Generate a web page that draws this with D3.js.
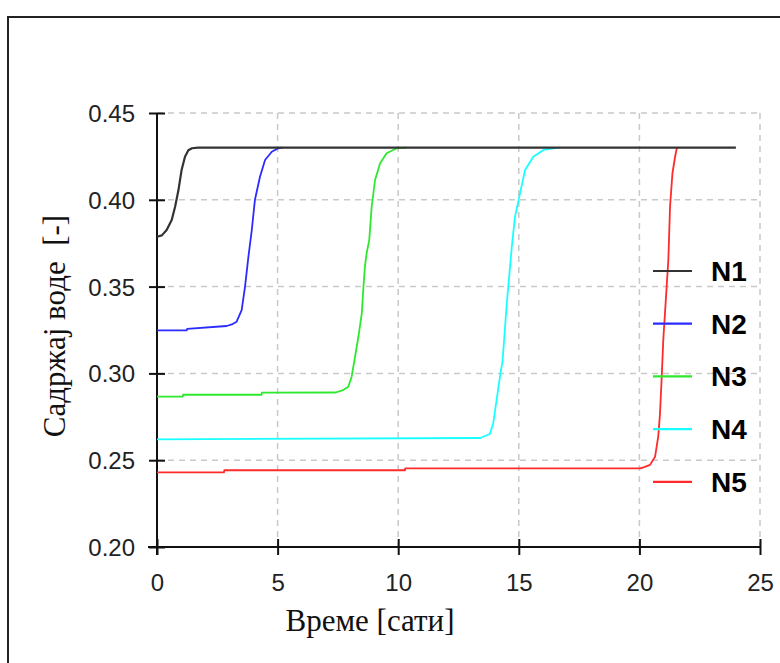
<!DOCTYPE html>
<html>
<head>
<meta charset="utf-8">
<script src="https://cdn.jsdelivr.net/npm/d3@7"></script>
<style>
  html, body { margin: 0; padding: 0; background: #fff; }
  svg { display: block; }
</style>
</head>
<body>
<svg id="chart" width="780" height="663"></svg>
<script>
// Water content over time at five nodes
const seriesNames = ["N1", "N2", "N3", "N4", "N5"];
const seriesColors = ["#333333", "#2b2bff", "#2ee82e", "#18ffff", "#ff2a2a"];

const n1Time  = [0, 0.2, 0.4, 0.61, 0.75, 0.89, 1.02, 1.16, 1.30, 1.45, 1.7, 24];
const n1Value = [0.3787, 0.3795, 0.3826, 0.3884, 0.396, 0.4056, 0.4172, 0.4248, 0.4285, 0.4297, 0.43, 0.43];

const n2Time  = [0, 1.23, 1.25, 2.89, 3.1, 3.30, 3.51, 3.65, 3.79, 3.93, 4.06, 4.27, 4.48, 4.76, 5.03, 5.2];
const n2Value = [0.3248, 0.3248, 0.3256, 0.3273, 0.3282, 0.3298, 0.3365, 0.35, 0.3672, 0.3826, 0.40, 0.4133, 0.4229, 0.4277, 0.4297, 0.43];

const n3Time  = [0, 1.07, 1.08, 4.34, 4.35, 7.4, 7.72, 7.93, 8.07, 8.21, 8.35, 8.49, 8.56, 8.62, 8.69, 8.80, 8.90, 9.04, 9.25, 9.52, 9.94, 10.35];
const n3Value = [0.2866, 0.2866, 0.2877, 0.2877, 0.2889, 0.2890, 0.2904, 0.2923, 0.2981, 0.3096, 0.3211, 0.3346, 0.35, 0.3615, 0.3692, 0.3768, 0.396, 0.4114, 0.421, 0.4268, 0.4297, 0.43];

const n4Time  = [0, 13.4, 13.8, 13.94, 14.08, 14.22, 14.33, 14.5, 14.71, 14.84, 15.05, 15.26, 15.6, 16.02, 16.43, 16.7];
const n4Value = [0.2620, 0.2628, 0.2651, 0.2713, 0.2847, 0.2981, 0.3077, 0.34, 0.373, 0.390, 0.4037, 0.4172, 0.4248, 0.4287, 0.4297, 0.43];

const n5Time  = [0, 2.78, 2.79, 10.28, 10.29, 20.03, 20.2, 20.44, 20.65, 20.78, 20.85, 20.92, 20.99, 21.13, 21.2, 21.27, 21.37, 21.48, 21.55, 21.6];
const n5Value = [0.2430, 0.2430, 0.2442, 0.2442, 0.2453, 0.2453, 0.2460, 0.2473, 0.252, 0.2636, 0.2760, 0.2962, 0.3192, 0.35, 0.3653, 0.396, 0.4153, 0.4248, 0.4297, 0.43];

const xTicks = [0, 5, 10, 15, 20, 25];
const yTicks = [0.20, 0.25, 0.30, 0.35, 0.40, 0.45];
const xTitle = "Време [сати]";
const yTitle = "Садржај воде\u00a0\u00a0[-]";

const seriesTimes = [n1Time, n2Time, n3Time, n4Time, n5Time];
const seriesValues = [n1Value, n2Value, n3Value, n4Value, n5Value];

const svg = d3.select("#chart");

// outer frame
svg.append("rect")
  .attr("x", 8).attr("y", 17)
  .attr("width", 800).attr("height", 700)
  .attr("fill", "none").attr("stroke", "#222").attr("stroke-width", 2);

const x = d3.scaleLinear().domain([0, 25]).range([157, 760]);
const y = d3.scaleLinear().domain([0.20, 0.45]).range([547, 113]);

const tickFont = "'Liberation Sans', Arial, sans-serif";
const titleFont = "'Liberation Serif', 'Times New Roman', serif";

// dashed grid
const grid = svg.append("g").attr("stroke", "#c9c9c9").attr("stroke-width", 1.5)
  .attr("stroke-dasharray", "6,5");
grid.selectAll("line.h").data(yTicks.filter(d => d > 0.2)).join("line")
  .attr("class", "h")
  .attr("x1", x(0)).attr("x2", x(25))
  .attr("y1", d => y(d)).attr("y2", d => y(d));
grid.selectAll("line.v").data(xTicks.filter(d => d > 0)).join("line")
  .attr("class", "v")
  .attr("x1", d => x(d)).attr("x2", d => x(d))
  .attr("y1", y(0.45)).attr("y2", y(0.20));

// axes
const xAxis = svg.append("g")
  .attr("transform", `translate(0,${y(0.20)})`)
  .call(d3.axisBottom(x).tickValues(xTicks).tickFormat(d3.format("d")).tickSizeOuter(0));
const yAxis = svg.append("g")
  .attr("transform", `translate(${x(0)},0)`)
  .call(d3.axisLeft(y).tickValues(yTicks).tickFormat(d3.format(".2f")).tickSizeOuter(0));

[xAxis, yAxis].forEach(g => {
  g.select(".domain").attr("stroke", "#111").attr("stroke-width", 2);
  g.selectAll(".tick line").attr("stroke", "#111").attr("stroke-width", 2);
  g.selectAll(".tick text")
    .attr("font-family", tickFont).attr("font-size", 24)
    .attr("fill", "#222");
});
xAxis.select(".domain").attr("d", `M${x(0) - 9},0H${x(25)}`);
xAxis.selectAll(".tick line").attr("y1", -8).attr("y2", 8);
xAxis.selectAll(".tick text").attr("y", 36).attr("dy", "0.35em");
yAxis.select(".domain").attr("d", `M0,${y(0.45)}V${y(0.20) + 8}`);
yAxis.selectAll(".tick line").attr("x1", -8).attr("x2", 8);
yAxis.selectAll(".tick text").attr("x", -22).attr("dy", "0.35em");

// axis titles
svg.append("text")
  .attr("x", 370).attr("y", 631)
  .attr("text-anchor", "middle")
  .attr("font-family", titleFont)
  .attr("font-size", 31).attr("fill", "#111")
  .text(xTitle);
svg.append("text")
  .attr("transform", "translate(65,326) rotate(-90)")
  .attr("text-anchor", "middle")
  .attr("font-family", titleFont)
  .attr("font-size", 31).attr("fill", "#111")
  .text(yTitle);

// series lines
const line = d3.line().x(d => x(d[0])).y(d => y(d[1]));
const plot = svg.append("g");
[4, 3, 2, 1, 0].forEach(i => {
  const pts = seriesTimes[i].map((t, k) => [t, seriesValues[i][k]]);
  plot.append("path")
    .datum(pts)
    .attr("fill", "none")
    .attr("stroke", seriesColors[i])
    .attr("stroke-width", i === 0 ? 2.2 : 1.8)
    .attr("stroke-linejoin", "round")
    .attr("d", line);
});

// legend
const legend = svg.append("g");
seriesNames.forEach((name, i) => {
  const ly = 271 + i * 52.7;
  legend.append("line")
    .attr("x1", 653).attr("x2", 692)
    .attr("y1", ly).attr("y2", ly)
    .attr("stroke", seriesColors[i]).attr("stroke-width", 2.2);
  legend.append("text")
    .attr("x", 711).attr("y", ly).attr("dy", "0.36em")
    .attr("font-family", "'Liberation Sans', Arial, sans-serif")
    .attr("font-weight", "bold").attr("font-size", 28)
    .attr("fill", "#000")
    .text(name);
});
</script>
</body>
</html>
